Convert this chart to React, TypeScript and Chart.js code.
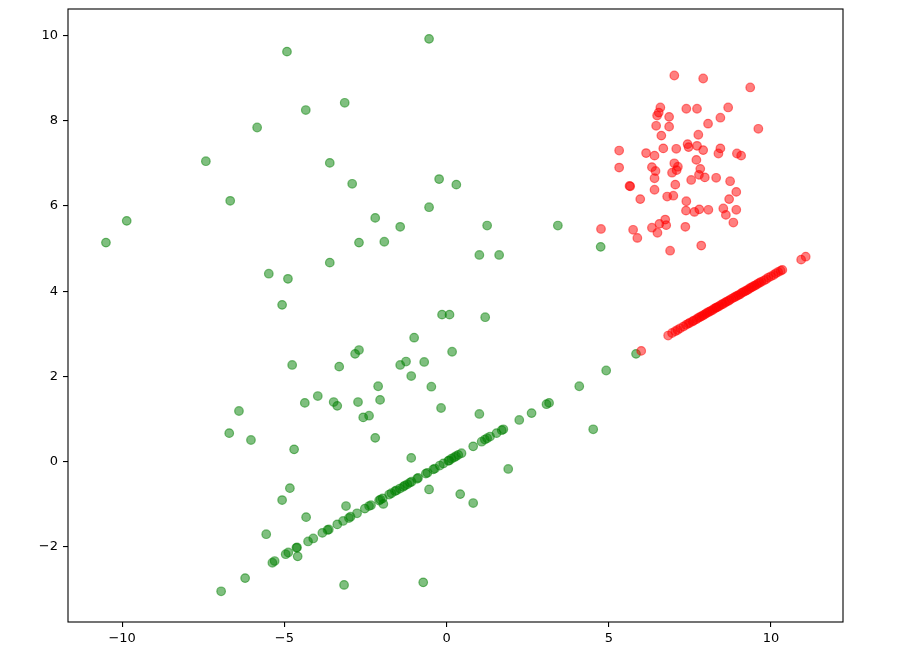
import React, { useEffect, useRef } from "react";
import { Chart, registerables } from "chart.js";

Chart.register(...registerables);

// Green class: scattered points
const greenClusterX = [
  -4.92, -4.34, -5.84, -7.42, -3.6, -6.67, -3.14, -0.54, -2.91, -0.23, 0.3, -0.54, -2.2, -9.86, -10.5,
  -5.48, -4.89, -5.07, -3.6, -4.76, -6.4, -4.37, -3.97, -1.43, -2.7, -1.92, 1.25, 3.43, 1.01, 1.62,
  -0.14, 0.09, 1.19, -1.0, -2.7, -2.82, 0.17, -3.31, -1.25, -1.43, -0.69, -1.09, -2.11, -0.47, -3.48,
  -3.37, -2.73, -2.05, -0.17, 1.01, -2.57, -2.39, 4.75, -6.7, -6.03, -4.7, -4.83, -5.07, -4.33, -5.56,
  -6.95, -6.21, -4.59, -2.2, -1.09, 1.9, -0.54, 0.42, 0.82, -3.1, -1.95, -3.16, -0.72, 4.52,
];
const greenClusterY = [
  9.62, 8.25, 7.84, 7.05, 7.01, 6.12, 8.42, 9.92, 6.52, 6.63, 6.5, 5.97, 5.72, 5.65, 5.14,
  4.41, 4.29, 3.68, 4.67, 2.27, 1.19, 1.38, 1.54, 5.51, 5.14, 5.16, 5.54, 5.54, 4.85, 4.85,
  3.45, 3.45, 3.39, 2.91, 2.62, 2.53, 2.58, 2.23, 2.35, 2.27, 2.34, 2.01, 1.77, 1.76, 1.4,
  1.31, 1.4, 1.45, 1.26, 1.12, 1.04, 1.08, 5.04, 0.67, 0.51, 0.29, -0.62, -0.9, -1.3, -1.7,
  -3.04, -2.73, -2.22, 0.56, 0.09, -0.17, -0.65, -0.76, -0.97, -1.04, -0.99, -2.89, -2.83, 0.76,
];

// Green class: points lying on the diagonal line
const greenLineX = [
  -5.37, -5.3, -4.96, -4.88, -4.63, -4.61, -4.27, -4.11, -3.83, -3.67, -3.63, -3.37, -3.19, -3.01, -2.96,
  -2.76, -2.52, -2.39, -2.33, -2.08, -2.04, -1.97, -1.77, -1.7, -1.59, -1.54, -1.44, -1.34, -1.29, -1.21,
  -1.13, -1.08, -0.91, -0.88, -0.64, -0.59, -0.41, -0.36, -0.21, -0.1, 0.05, 0.08, 0.15, 0.23, 0.29,
  0.36, 0.46, 0.82, 1.08, 1.18, 1.25, 1.34, 1.54, 1.7, 1.75, 2.24, 2.62, 3.08, 3.16, 4.09,
  4.92, 5.84,
];
const greenLineY = [
  -2.37, -2.33, -2.17, -2.13, -2.02, -2.01, -1.87, -1.8, -1.67, -1.6, -1.59, -1.47, -1.39, -1.32, -1.29,
  -1.21, -1.1, -1.04, -1.02, -0.91, -0.89, -0.86, -0.77, -0.74, -0.69, -0.67, -0.63, -0.59, -0.56, -0.53,
  -0.49, -0.47, -0.4, -0.38, -0.28, -0.26, -0.18, -0.16, -0.09, -0.04, 0.02, 0.03, 0.07, 0.1, 0.13,
  0.16, 0.2, 0.36, 0.47, 0.52, 0.55, 0.59, 0.67, 0.74, 0.76, 0.98, 1.14, 1.35, 1.38, 1.77,
  2.14, 2.53,
];

// Red class: cluster in the upper right
const redClusterX = [
  4.76, 5.75, 5.88, 6.33, 6.5, 6.56, 6.74, 6.77, 7.36, 6.89, 7.85, 7.38, 7.64, 7.79, 8.07,
  8.53, 8.61, 8.84, 8.93, 7.02, 7.91, 9.36, 6.59, 6.54, 6.49, 6.86, 7.39, 7.72, 8.68, 8.44,
  8.06, 9.61, 6.46, 6.86, 6.62, 7.76, 5.32, 6.15, 6.41, 6.68, 7.08, 7.43, 7.46, 7.72, 7.91,
  8.44, 8.38, 8.95, 9.08, 5.32, 6.33, 6.44, 6.41, 7.02, 7.13, 7.09, 6.95, 7.7, 7.82, 7.78,
  7.96, 7.54, 8.31, 8.74, 5.64, 5.66, 7.05, 6.41, 8.93, 5.97, 6.8, 6.99, 8.71, 7.39,
];
const redClusterY = [
  5.46, 5.44, 5.25, 5.49, 5.37, 5.58, 5.68, 5.55, 5.51, 4.95, 5.07, 5.89, 5.86, 5.92, 5.91,
  5.94, 5.79, 5.61, 5.91, 9.06, 8.99, 8.78, 8.31, 8.19, 8.12, 8.09, 8.28, 8.28, 8.31, 8.07,
  7.93, 7.81, 7.88, 7.86, 7.65, 7.67, 7.3, 7.24, 7.18, 7.35, 7.34, 7.45, 7.38, 7.41, 7.31,
  7.35, 7.23, 7.23, 7.18, 6.9, 6.91, 6.82, 6.65, 7.0, 6.92, 6.84, 6.78, 7.08, 6.87, 6.73,
  6.67, 6.61, 6.66, 6.58, 6.47, 6.46, 6.5, 6.38, 6.33, 6.16, 6.22, 6.24, 6.16, 6.11,
];

// Red class: points lying on the diagonal line
const redLineX = [
  6.0, 6.83, 6.95, 7.05, 7.12, 7.2, 7.3, 7.38, 7.45, 7.5, 7.58, 7.62, 7.7, 7.75, 7.8,
  7.85, 7.9, 7.95, 8.0, 8.05, 8.1, 8.15, 8.2, 8.25, 8.3, 8.33, 8.38, 8.42, 8.48, 8.52,
  8.58, 8.62, 8.68, 8.72, 8.78, 8.85, 8.9, 8.95, 9.0, 9.05, 9.1, 9.15, 9.2, 9.25, 9.3,
  9.35, 9.4, 9.45, 9.5, 9.55, 9.6, 9.65, 9.7, 9.78, 9.85, 9.92, 10.0, 10.08, 10.15, 10.22,
  10.3, 10.35, 10.93, 11.07,
];
const redLineY = [
  2.6, 2.96, 3.02, 3.06, 3.09, 3.13, 3.17, 3.21, 3.24, 3.26, 3.29, 3.31, 3.34, 3.37, 3.39,
  3.41, 3.43, 3.45, 3.48, 3.5, 3.52, 3.54, 3.56, 3.59, 3.61, 3.62, 3.64, 3.66, 3.69, 3.7,
  3.73, 3.75, 3.77, 3.79, 3.82, 3.85, 3.87, 3.89, 3.91, 3.93, 3.96, 3.98, 4.0, 4.02, 4.04,
  4.07, 4.09, 4.11, 4.13, 4.15, 4.18, 4.2, 4.22, 4.25, 4.28, 4.32, 4.35, 4.38, 4.42, 4.45,
  4.48, 4.5, 4.74, 4.81,
];

const xTicks = [-10, -5, 0, 5, 10];
const yTicks = [-2, 0, 2, 4, 6, 8, 10];

const toPoints = (xs: number[], ys: number[]) => xs.map((x, i) => ({ x, y: ys[i] }));

const fmt = (v: number) => (v < 0 ? "\u2212" + Math.abs(v) : String(v));

const boxPlugin = {
  id: "boxPlugin",
  afterDraw(chart: any) {
    const { ctx, chartArea } = chart;
    ctx.save();
    ctx.strokeStyle = "#000";
    ctx.lineWidth = 1.1;
    ctx.strokeRect(chartArea.left, chartArea.top, chartArea.right - chartArea.left, chartArea.bottom - chartArea.top);
    ctx.restore();
  },
};

export default function App() {
  const ref = useRef<HTMLCanvasElement | null>(null);

  useEffect(() => {
    document.body.style.margin = "0";
    if (!ref.current) return;
    const green = "rgba(0,128,0,0.5)";
    const red = "rgba(255,0,0,0.5)";
    const tickFont = { family: "DejaVu Sans", size: 13 };
    const chart = new Chart(ref.current, {
      type: "scatter",
      data: {
        datasets: [
          {
            label: "class 1",
            data: [...toPoints(redClusterX, redClusterY), ...toPoints(redLineX, redLineY)],
            backgroundColor: red,
            borderColor: red,
            borderWidth: 1.2,
            pointRadius: 4.3,
            order: 0,
          },
          {
            label: "class 0",
            data: [...toPoints(greenClusterX, greenClusterY), ...toPoints(greenLineX, greenLineY)],
            backgroundColor: green,
            borderColor: green,
            borderWidth: 1.2,
            pointRadius: 4.3,
            order: 1,
          },
        ],
      },
      options: {
        animation: false,
        responsive: false,
        devicePixelRatio: 1,
        layout: { padding: { top: 9, right: 57, left: 0, bottom: 0 } },
        plugins: { legend: { display: false }, tooltip: { enabled: false } },
        scales: {
          x: {
            type: "linear",
            min: -11.67,
            max: 12.22,
            afterBuildTicks: (scale: any) => {
              scale.ticks = xTicks.map((v) => ({ value: v }));
            },
            afterFit: (scale: any) => {
              scale.height = 38;
              scale.paddingLeft = 0;
              scale.paddingRight = 0;
            },
            grid: { display: true, drawOnChartArea: false, drawTicks: true, tickLength: 5, color: "#000", lineWidth: 1.1 },
            border: { display: false },
            ticks: { color: "#000", font: tickFont, padding: 4, maxRotation: 0, callback: (v: any) => fmt(Number(v)) },
          },
          y: {
            type: "linear",
            min: -3.76,
            max: 10.62,
            afterBuildTicks: (scale: any) => {
              scale.ticks = yTicks.map((v) => ({ value: v }));
            },
            afterFit: (scale: any) => {
              scale.width = 68;
              scale.paddingTop = 0;
              scale.paddingBottom = 0;
            },
            grid: { display: true, drawOnChartArea: false, drawTicks: true, tickLength: 5, color: "#000", lineWidth: 1.1 },
            border: { display: false },
            ticks: { color: "#000", font: tickFont, padding: 5, callback: (v: any) => fmt(Number(v)) },
          },
        },
      },
      plugins: [boxPlugin],
    } as any);
    return () => chart.destroy();
  }, []);

  return (
    <div style={{ width: 900, height: 660, background: "#fff" }}>
      <canvas ref={ref} width={900} height={660} />
    </div>
  );
}
